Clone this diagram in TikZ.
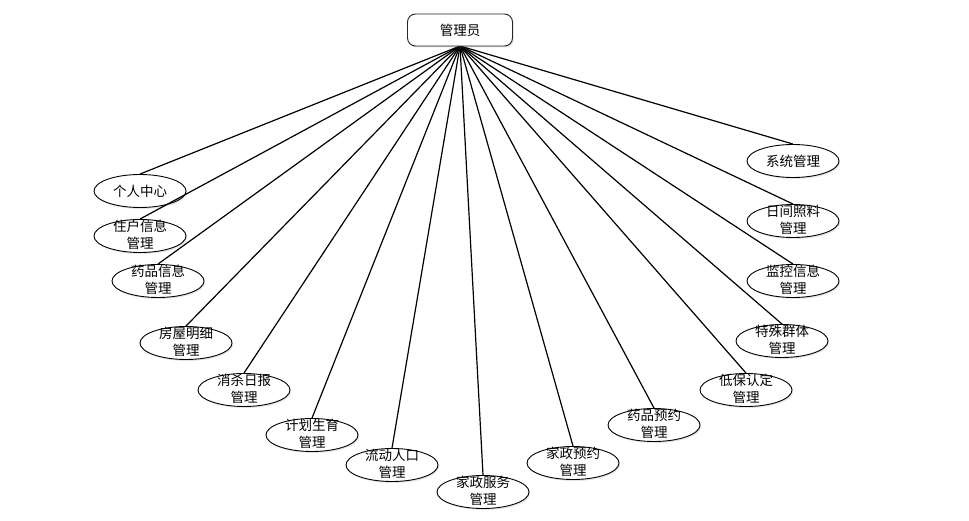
\documentclass[tikz,border=0pt]{standalone}
\usepackage{fontspec}
\newfontfamily\cjk{Noto Sans CJK SC}
\usetikzlibrary{shapes.geometric,shadows}
\begin{document}
\begin{tikzpicture}[x=1pt,y=-1pt,
  role/.style={draw=black!85,line width=0.9pt,rounded corners=8pt,minimum width=105pt,minimum height=32pt,inner sep=0pt,fill=white,
    drop shadow={shadow xshift=1.2pt,shadow yshift=-1.5pt,opacity=0.25},font=\cjk\fontsize{13.5}{15}\selectfont},
  func/.style={ellipse,draw=black,line width=0.9pt,minimum width=92pt,minimum height=33pt,inner sep=0pt,fill=white,
    drop shadow={shadow xshift=1.2pt,shadow yshift=-1.5pt,opacity=0.2}},
  lbl/.style={align=center,inner sep=0pt,font=\cjk\fontsize{13.5}{17}\selectfont},
  link/.style={line width=1.2pt,black}]
\useasboundingbox (0,0) rectangle (969,521);
\fill[white] (0,0) rectangle (969,521);
\coordinate (hub) at (460,46);
\node[func] (a1) at (140,191) {};
\node[func] (a2) at (140,236) {};
\node[func] (a3) at (158,281) {};
\node[func] (a4) at (186,343) {};
\node[func] (a5) at (244,390) {};
\node[func] (a6) at (312,435) {};
\node[func] (a7) at (392,465) {};
\node[func] (a8) at (483,492) {};
\node[func] (a9) at (573,463) {};
\node[func] (a10) at (654,425) {};
\node[func] (a11) at (746,390) {};
\node[func] (a12) at (782,341) {};
\node[func] (a13) at (793,281) {};
\node[func] (a14) at (793,221) {};
\node[func] (a15) at (793,161) {};
\foreach \i in {1,...,15} {\draw[link] (hub) -- (a\i.north);}
\node[lbl] (t1) at (a1) {个人中心};
\node[lbl,yshift=1.5pt] (t2) at (a2) {住户信息\\管理};
\node[lbl,yshift=1.5pt] (t3) at (a3) {药品信息\\管理};
\node[lbl,yshift=1.5pt] (t4) at (a4) {房屋明细\\管理};
\node[lbl,yshift=1.5pt] (t5) at (a5) {消杀日报\\管理};
\node[lbl,yshift=1.5pt] (t6) at (a6) {计划生育\\管理};
\node[lbl,yshift=1.5pt] (t7) at (a7) {流动人口\\管理};
\node[lbl,yshift=1.5pt] (t8) at (a8) {家政服务\\管理};
\node[lbl,yshift=1.5pt] (t9) at (a9) {家政预约\\管理};
\node[lbl,yshift=1.5pt] (t10) at (a10) {药品预约\\管理};
\node[lbl,yshift=1.5pt] (t11) at (a11) {低保认定\\管理};
\node[lbl,yshift=1.5pt] (t12) at (a12) {特殊群体\\管理};
\node[lbl,yshift=1.5pt] (t13) at (a13) {监控信息\\管理};
\node[lbl,yshift=1.5pt] (t14) at (a14) {日间照料\\管理};
\node[lbl] (t15) at (a15) {系统管理};
\node[role] (root) at (460,30) {管理员};
\end{tikzpicture}
\end{document}
